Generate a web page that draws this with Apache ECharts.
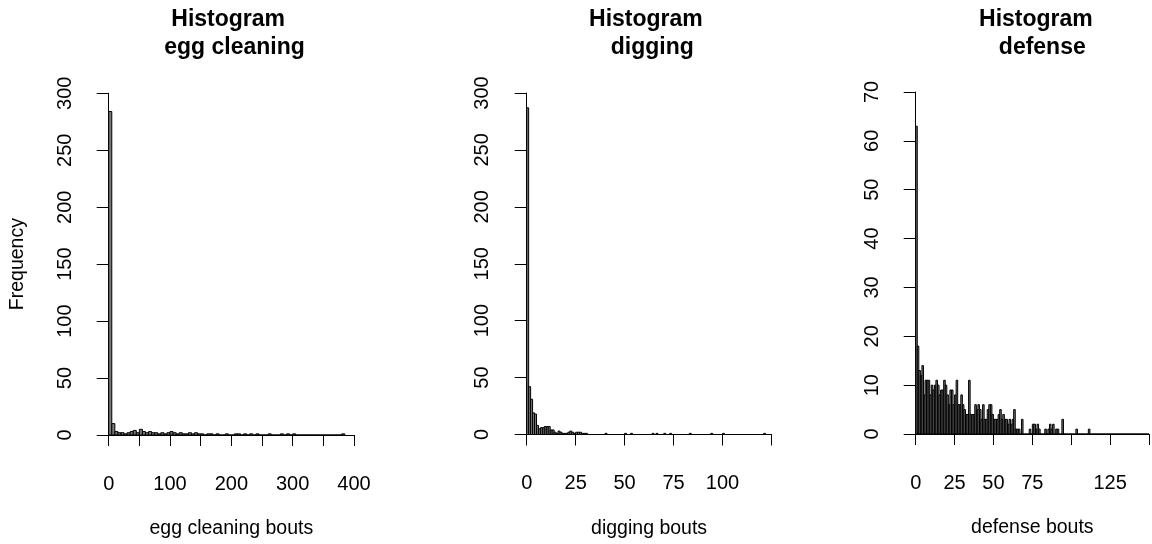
<!DOCTYPE html>
<html>
<head>
<meta charset="utf-8">
<script src="https://cdn.jsdelivr.net/npm/echarts@6/dist/echarts.min.js"></script>
<style>
  html, body { margin: 0; padding: 0; background: #fff; }
  #chart { width: 1152px; height: 544px; }
</style>
</head>
<body>
<div id="chart"></div>
<script>
// ---- Data ----
const eggBinWidth = 5;
const eggCounts = [
  284, 10, 3, 2, 2, 1, 2, 3, 4, 2,
  5, 3, 2, 3, 2, 2, 1, 2, 1, 2,
  3, 2, 1, 2, 1, 1, 2, 1, 2, 1,
  1, 0, 1, 1, 0, 1, 0, 0, 1, 0,
  0, 1, 1, 0, 1, 0, 1, 0, 1, 0,
  0, 0, 1, 0, 0, 0, 1, 0, 1, 0,
  1, 0, 0, 0, 0, 0, 0, 0, 0, 0,
  0, 0, 0, 0, 0, 0, 1
];

const digBinWidth = 1;
const digCounts = [
  287, 42, 31, 19, 18, 8, 5, 6, 6, 7,
  7, 7, 4, 4, 2, 1, 3, 2, 1, 1,
  1, 2, 3, 2, 1, 2, 2, 2, 1, 1,
  1, 0, 0, 0, 0, 0, 0, 0, 0, 0,
  1, 0, 0, 0, 0, 0, 0, 0, 0, 0,
  1, 0, 0, 1, 0, 0, 0, 0, 0, 0,
  0, 0, 0, 0, 1, 0, 1, 0, 0, 0,
  1, 0, 0, 1, 0, 0, 0, 0, 0, 0,
  0, 0, 0, 1, 0, 0, 0, 0, 0, 0,
  0, 0, 0, 0, 1, 0, 0, 0, 0, 0,
  1, 0, 0, 0, 0, 0, 0, 0, 0, 0,
  0, 0, 0, 0, 0, 0, 0, 0, 0, 0,
  0, 1
];

const defBinWidth = 1;
const defCounts = [
  63, 18, 13, 12, 14, 8, 11, 11, 11, 8,
  10, 9, 10, 11, 10, 8, 9, 9, 11, 10,
  8, 6, 9, 9, 6, 8, 11, 6, 6, 8,
  6, 5, 4, 4, 11, 4, 4, 4, 6, 5,
  6, 5, 3, 6, 3, 3, 5, 6, 6, 4,
  3, 3, 3, 4, 5, 3, 4, 3, 3, 2,
  3, 2, 3, 5, 1, 1, 1, 0, 3, 0,
  0, 0, 0, 1, 0, 2, 2, 1, 2, 1,
  0, 0, 0, 1, 0, 1, 2, 1, 2, 0,
  1, 1, 0, 0, 3, 0, 0, 0, 0, 0,
  0, 0, 0, 1, 0, 0, 0, 0, 0, 0,
  0, 1, 0, 0, 0, 0, 0, 0, 0, 0,
  0, 0, 0, 0, 0, 0, 0, 0, 0, 0,
  0, 0, 0, 0, 0, 0, 0, 0, 0, 0,
  0, 0, 0, 0, 0, 0, 0, 0, 0, 0
];

const titles = ['Histogram \n egg cleaning', 'Histogram \n digging', 'Histogram \n defense'];
const xNames = ['egg cleaning bouts', 'digging bouts', 'defense bouts'];
const yName = 'Frequency';
const xTicks = [
  { min: 0, max: 400, interval: 50, labels: [0, 100, 200, 300, 400] },
  { min: 0, max: 125, interval: 25, labels: [0, 25, 50, 75, 100] },
  { min: 0, max: 150, interval: 25, labels: [0, 25, 50, 75, 125] }
];
const yTicks = [
  { min: 0, max: 300, interval: 50 },
  { min: 0, max: 300, interval: 50 },
  { min: 0, max: 70, interval: 10 }
];

// ---- Layout ----
const FONT = "'Liberation Sans', Arial, sans-serif";
const grids = [
  { left: 108.7, top: 93.3, width: 245.3, height: 342.7 },
  { left: 526.7, top: 93.0, width: 244.8, height: 341.5 },
  { left: 915.7, top: 92.0, width: 246.8, height: 342.0 }
];
const yOffsets = [9.4, 10.7, 9.7];

function histData(counts, bw) {
  return counts.map((c, i) => [i * bw, (i + 1) * bw, c]);
}

function renderHist(params, api) {
  const p0 = api.coord([api.value(0), api.value(2)]);
  const p1 = api.coord([api.value(1), 0]);
  return {
    type: 'rect',
    shape: { x: p0[0], y: p0[1], width: p1[0] - p0[0], height: p1[1] - p0[1] },
    style: { fill: '#7a7a7a', stroke: '#000', lineWidth: 1 }
  };
}

const allData = [
  histData(eggCounts, eggBinWidth),
  histData(digCounts, digBinWidth),
  histData(defCounts, defBinWidth)
];

const option = {
  animation: false,
  backgroundColor: '#fff',
  grid: grids.map(g => Object.assign({ containLabel: false }, g)),
  xAxis: xTicks.map((t, i) => ({
    type: 'value', gridIndex: i, min: t.min, max: t.max, interval: t.interval,
    position: 'bottom', offset: 15,
    axisLine: { show: true, lineStyle: { color: '#000', width: 1 } },
    axisTick: { show: true, length: 11, lineStyle: { color: '#000', width: 1 } },
    splitLine: { show: false },
    axisLabel: {
      color: '#000', fontFamily: FONT, fontSize: 20, margin: 24,
      showMinLabel: true, showMaxLabel: true,
      formatter: v => (t.labels.indexOf(v) >= 0 ? String(v) : '')
    },
    name: xNames[i], nameLocation: 'middle', nameGap: 69,
    nameTextStyle: { color: '#000', fontFamily: FONT, fontSize: 19.5 }
  })),
  yAxis: yTicks.map((t, i) => ({
    type: 'value', gridIndex: i, min: t.min, max: t.max, interval: t.interval,
    position: 'left', offset: yOffsets[i],
    axisLine: { show: true, lineStyle: { color: '#000', width: 1 } },
    axisTick: { show: true, length: 12, lineStyle: { color: '#000', width: 1 } },
    splitLine: { show: false },
    axisLabel: {
      color: '#000', fontFamily: FONT, fontSize: 20, margin: 24, rotate: 90,
      showMinLabel: true, showMaxLabel: true
    },
    name: i === 0 ? yName : '', nameLocation: 'middle', nameGap: 72, nameRotate: 90,
    nameTextStyle: { color: '#000', fontFamily: FONT, fontSize: 19.5 }
  })),
  graphic: titles.map((txt, i) => ({
    type: 'text',
    x: grids[i].left + grids[i].width / 2,
    y: 6,
    style: {
      text: txt, align: 'center', verticalAlign: 'top',
      font: 'bold 23px ' + FONT, lineHeight: 28, fill: '#000'
    }
  })),
  series: allData.map((d, i) => ({
    type: 'custom', xAxisIndex: i, yAxisIndex: i,
    renderItem: renderHist, data: d, clip: false,
    encode: { x: [0, 1], y: 2 }
  }))
};

const chart = echarts.init(document.getElementById('chart'), null, { renderer: 'canvas' });
chart.setOption(option);
</script>
</body>
</html>
